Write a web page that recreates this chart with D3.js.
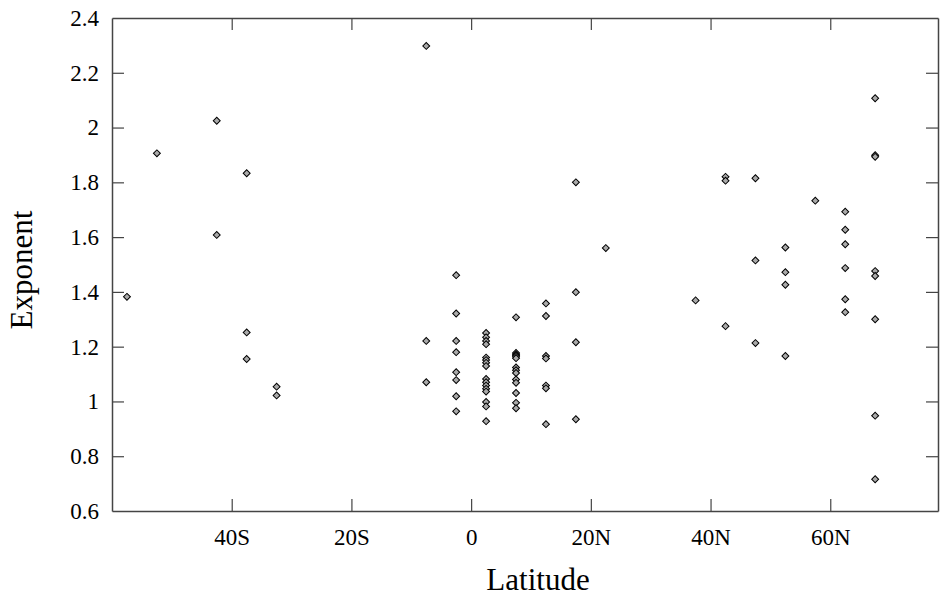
<!DOCTYPE html>
<html>
<head>
<meta charset="utf-8">
<script src="https://cdn.jsdelivr.net/npm/d3@7"></script>
<style>
  body { margin: 0; background: #fff; }
  svg, svg text { font-family: "Liberation Serif", "Times New Roman", Times, serif; }
</style>
</head>
<body>
<svg id="chart" width="942" height="598"></svg>
<script>
// latitude band centres (degrees, S negative) and the exponents found in each band
const bandLats = [-57.5, -52.5, -42.5, -37.5, -32.5, -7.5, -2.5, 2.5, 7.5, 12.5, 17.5, 22.5, 37.5, 42.5, 47.5, 52.5, 57.5, 62.5, 67.5];
const bandExponents = [
    [1.382],
    [1.906],
    [2.025, 1.608],
    [1.833, 1.252, 1.155],
    [1.054, 1.022],
    [2.298, 1.221, 1.070],
    [1.461, 1.321, 1.221, 1.180, 1.107, 1.078, 1.019, 0.964],
    [1.250, 1.234, 1.221, 1.209, 1.160, 1.151, 1.141, 1.129, 1.082, 1.070, 1.058, 1.046, 1.036, 0.998, 0.982, 0.928],
    [1.307, 1.177, 1.172, 1.168, 1.163, 1.158, 1.124, 1.114, 1.104, 1.080, 1.068, 1.031, 0.995, 0.975],
    [1.358, 1.312, 1.166, 1.157, 1.058, 1.048, 0.917],
    [1.800, 1.399, 1.216, 0.935],
    [1.560],
    [1.369],
    [1.820, 1.806, 1.275],
    [1.815, 1.515, 1.213],
    [1.562, 1.472, 1.426, 1.166],
    [1.733],
    [1.693, 1.627, 1.574, 1.487, 1.373, 1.326],
    [2.107, 1.899, 1.893, 1.476, 1.458, 1.300, 0.948, 0.716]
];

const xTicks = [-40, -20, 0, 20, 40, 60];
const xTickLabels = ['40S', '20S', '0', '20N', '40N', '60N'];
const yTicks = [0.6, 0.8, 1, 1.2, 1.4, 1.6, 1.8, 2, 2.2, 2.4];

const margin = {left: 112, right: 4, top: 18, bottom: 87};
const width = 942, height = 598;
const tickLen = 12;
const axisColor = '#444';
const serif = '"Liberation Serif", "Times New Roman", Times, serif';

let svg = d3.select('#chart');

let x = d3.scaleLinear()
    .domain([-60, 78])
    .range([margin.left, width - margin.right]);

let y = d3.scaleLinear()
    .domain([0.6, 2.4])
    .range([height - margin.bottom, margin.top]);

let x0 = x.range()[0], x1 = x.range()[1];
let y0 = y.range()[0], y1 = y.range()[1];

// flatten the bands into points
let points = [];
bandLats.forEach(function(lat, i){
    bandExponents[i].forEach(function(v){
        points.push({lat: lat, exponent: v});
    });
});

// bottom axis, inner ticks + labels
let bottomAxis = d3.axisBottom(x)
    .tickValues(xTicks)
    .tickSizeInner(-tickLen)
    .tickSizeOuter(0)
    .tickPadding(18)
    .tickFormat(function(d, i){ return xTickLabels[i]; });

let gBottom = svg.append('g')
    .attr('transform', `translate(0,${y0})`)
    .call(bottomAxis);

// top axis, ticks only
let gTop = svg.append('g')
    .attr('transform', `translate(0,${y1})`)
    .call(d3.axisTop(x).tickValues(xTicks).tickSizeInner(-tickLen).tickSizeOuter(0).tickFormat(''));

// left axis
let gLeft = svg.append('g')
    .attr('transform', `translate(${x0},0)`)
    .call(d3.axisLeft(y)
        .tickValues(yTicks)
        .tickSizeInner(-tickLen)
        .tickSizeOuter(0)
        .tickPadding(13)
        .tickFormat(d3.format('')));

// right axis, ticks only
let gRight = svg.append('g')
    .attr('transform', `translate(${x1},0)`)
    .call(d3.axisRight(y).tickValues(yTicks).tickSizeInner(-tickLen).tickSizeOuter(0).tickFormat(''));

[gBottom, gTop, gLeft, gRight].forEach(function(g){
    g.attr('font-family', null).attr('font-size', null);
    g.select('.domain').attr('stroke', axisColor).attr('stroke-width', 1.5);
    g.selectAll('.tick line').attr('stroke', axisColor).attr('stroke-width', 1.2);
    g.selectAll('.tick text')
        .attr('fill', '#000')
        .style('font-size', '23px')
        .style('font-family', serif);
});

// drop the end ticks that sit on the border
gLeft.selectAll('.tick').filter(function(d){ return d === 0.6 || d === 2.4; }).select('line').remove();
gRight.selectAll('.tick').filter(function(d){ return d === 0.6 || d === 2.4; }).select('line').remove();

// markers
let diamond = d3.symbol().type(d3.symbolSquare).size(24);

svg.append('g')
    .selectAll('path')
    .data(points)
    .enter()
    .append('path')
    .attr('d', diamond)
    .attr('transform', function(d){
        return `translate(${x(d.lat)},${y(d.exponent)}) rotate(45)`;
    })
    .attr('fill', '#aaa')
    .attr('stroke', '#000')
    .attr('stroke-width', 1);

// axis titles
svg.append('text')
    .attr('x', 538)
    .attr('y', 590)
    .attr('text-anchor', 'middle')
    .style('font-size', '31px')
    .style('font-family', serif)
    .text('Latitude');

svg.append('text')
    .attr('transform', 'translate(32,270) rotate(-90)')
    .attr('text-anchor', 'middle')
    .style('font-size', '31px')
    .style('font-family', serif)
    .text('Exponent');
</script>
</body>
</html>
